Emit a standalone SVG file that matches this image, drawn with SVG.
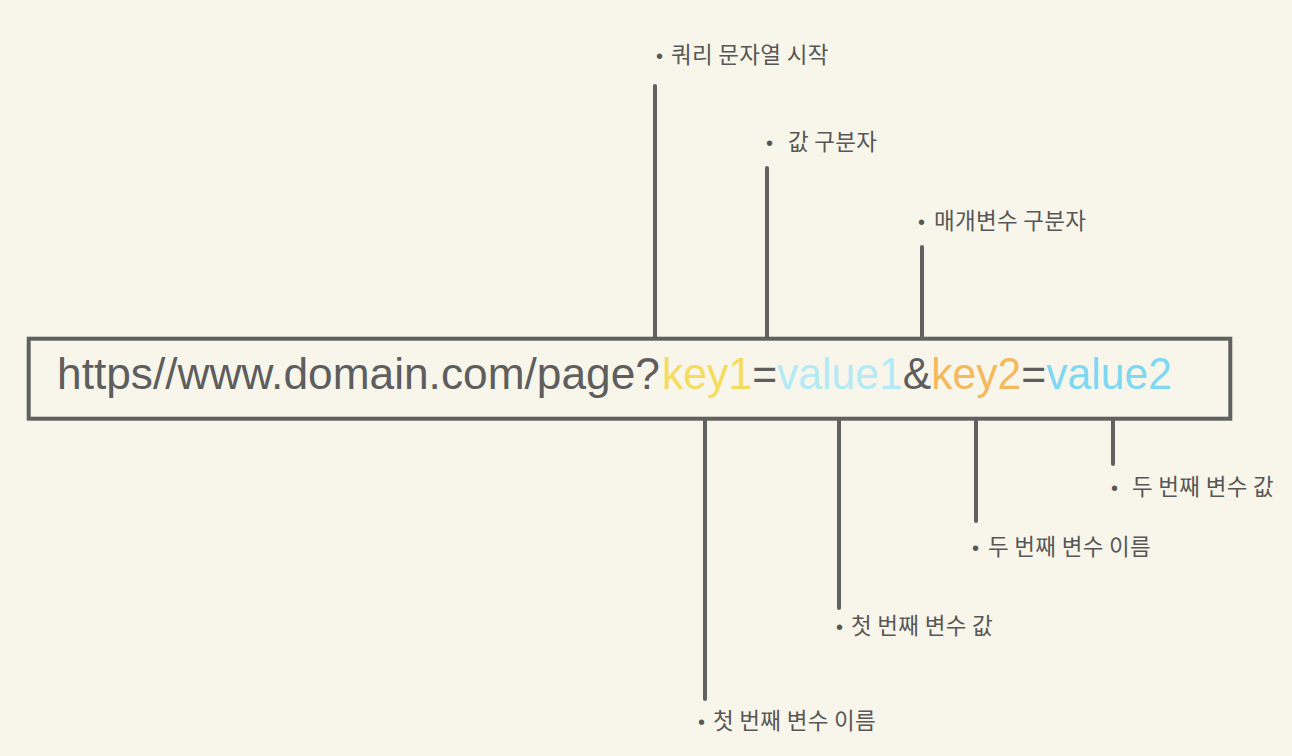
<svg xmlns="http://www.w3.org/2000/svg" width="1292" height="756" viewBox="0 0 1292 756">
<style>
.bg{fill:#f8f6ea}
.box{fill:none;stroke:#616161;stroke-width:4}
.ln{stroke:#616161;stroke-width:4;stroke-linecap:round}
.lbl{font-family:"Noto Sans CJK KR","Noto Sans",sans-serif;font-size:22.5px;font-weight:400;fill:#575757;letter-spacing:0.3px}
.dot{font-family:"Liberation Sans",sans-serif;font-size:20px}
.url{font-family:"Liberation Sans",Arial,sans-serif;font-size:43.5px;fill:#5e5e5e}
.k1{fill:#f6dc5c}.v1{fill:#b4eaf6}.k2{fill:#f4b95c}.v2{fill:#7fd8f2}
</style>
<rect class="bg" x="0" y="0" width="1292" height="756"/>
<g id="connectors">
<line class="ln" x1="655" y1="86" x2="655" y2="337"/>
<line class="ln" x1="767" y1="168" x2="767" y2="337"/>
<line class="ln" x1="922" y1="247" x2="922" y2="337"/>
<line class="ln" x1="705" y1="421" x2="705" y2="699"/>
<line class="ln" x1="839" y1="421" x2="839" y2="608"/>
<line class="ln" x1="976" y1="421" x2="976" y2="521"/>
<line class="ln" x1="1113" y1="421" x2="1113" y2="464"/>
</g>
<g id="url-box">
<rect class="box" x="28.7" y="338.7" width="1201.6" height="80"/>
<text class="url" x="57" y="389" textLength="603" lengthAdjust="spacingAndGlyphs">https//www.domain.com/page?</text>
<text class="url" x="662" y="389" textLength="510" lengthAdjust="spacingAndGlyphs"><tspan class="k1">key1</tspan>=<tspan class="v1">value1</tspan>&amp;<tspan class="k2">key2</tspan>=<tspan class="v2">value2</tspan></text>
</g>
<g id="label-query-start"><text class="lbl" y="63"><tspan class="dot" x="656">•</tspan><tspan x="671">쿼리 문자열 시작</tspan></text></g>
<g id="label-value-sep"><text class="lbl" y="150"><tspan class="dot" x="766">•</tspan><tspan x="788">값 구분자</tspan></text></g>
<g id="label-param-sep"><text class="lbl" y="229"><tspan class="dot" x="918">•</tspan><tspan x="934">매개변수 구분자</tspan></text></g>
<g id="label-key1"><text class="lbl" y="729"><tspan class="dot" x="698">•</tspan><tspan x="713">첫 번째 변수 이름</tspan></text></g>
<g id="label-value1"><text class="lbl" y="634"><tspan class="dot" x="836">•</tspan><tspan x="851">첫 번째 변수 값</tspan></text></g>
<g id="label-key2"><text class="lbl" y="555"><tspan class="dot" x="972">•</tspan><tspan x="988">두 번째 변수 이름</tspan></text></g>
<g id="label-value2"><text class="lbl" y="495"><tspan class="dot" x="1111">•</tspan><tspan x="1132">두 번째 변수 값</tspan></text></g>
</svg>
